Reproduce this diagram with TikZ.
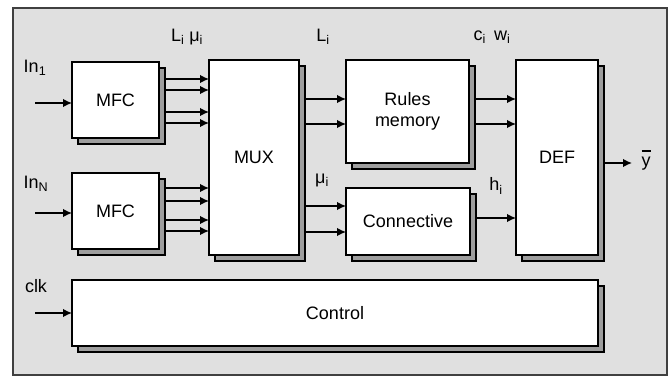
\documentclass[tikz,border=0pt]{standalone}
\usepackage{fontspec}
\setmainfont{Liberation Sans}
\usetikzlibrary{arrows.meta}
\usetikzlibrary{shadows}
\usetikzlibrary{calc}

\begin{document}
\begin{tikzpicture}[
    x = 1pt, y = -1pt,
    >={Latex[length=9pt, width=8.5pt]},
    blk/.style = {
      draw, line width = 2pt, fill = white,
      inner sep = 0pt, outer sep = 0pt,
      font = \fontsize{18}{21}\selectfont,
      align = center,
      copy shadow = {shadow xshift = 6pt, shadow yshift = -6pt,
        fill = black!38, draw = black, line width = 2pt},
    },
    sig/.style = {->, line width = 1.5pt},
    lbl/.style = {font = \fontsize{18}{21}\selectfont, inner sep = 0pt},
  ]

  \useasboundingbox (0,0) rectangle (671,377);
  \draw[fill = black!12, draw = black!75, line width = 1.5pt]
    (13,8) rectangle (667,375);

  \node[blk, minimum width = 87pt, minimum height = 76pt] (mfcA) at (115.5,100) {MFC};
  \node[blk, minimum width = 87pt, minimum height = 76pt] (mfcB) at (115.5,211) {MFC};
  \node[blk, minimum width = 90pt, minimum height = 195pt] (mux) at (254,157.5) {MUX};
  \node[blk, minimum width = 123pt, minimum height = 103pt] (rules) at (407.5,111.5) {Rules\\memory};
  \node[blk, minimum width = 124pt, minimum height = 67pt] (conn) at (408,221.5) {Connective};
  \node[blk, minimum width = 82pt, minimum height = 195pt] (def) at (557,157.5) {DEF};
  \node[blk, minimum width = 526pt, minimum height = 66pt] (ctrl) at (335,313) {Control};

  \node[lbl] (inAl) at (35,68) {In\textsubscript{1}};
  \node[lbl] (inBl) at (36,184) {In\textsubscript{N}};
  \node[lbl] (clkl) at (36,286) {clk};
  \node[lbl] (lml) at (187,37) {L\textsubscript{i} μ\textsubscript{i}};
  \node[lbl] (ll) at (323,37) {L\textsubscript{i}};
  \node[lbl] (ml) at (322,180) {μ\textsubscript{i}};
  \node[lbl] (cwl) at (492,37) {c\textsubscript{i}\, w\textsubscript{i}};
  \node[lbl] (hl) at (496,186) {h\textsubscript{i}};
  \node[lbl] (yl) at (646,160)
    {\ooalign{\hidewidth\rule[15pt]{9pt}{1.8pt}\hidewidth\cr y}};

  \coordinate (inA) at (35,103);
  \coordinate (inB) at (35,213);
  \coordinate (clk) at (35,313);
  \coordinate (yOut) at (632,163);

  \draw[sig] (inA) -- (inA -| mfcA.west);
  \draw[sig] (inB) -- (inB -| mfcB.west);
  \draw[sig] (clk) -- (ctrl.west);

  \foreach \yy in {79,90,112,123}
    \draw[sig] ($(mfcA.east |- 0,\yy)+(6,0)$) -- (mux.west |- 0,\yy);
  \foreach \yy in {188,201,220,231}
    \draw[sig] ($(mfcB.east |- 0,\yy)+(6,0)$) -- (mux.west |- 0,\yy);
  \foreach \yy in {99,124}
    \draw[sig] ($(mux.east |- 0,\yy)+(6,0)$) -- (rules.west |- 0,\yy);
  \foreach \yy in {206,232}
    \draw[sig] ($(mux.east |- 0,\yy)+(6,0)$) -- (conn.west |- 0,\yy);
  \foreach \yy in {99,124}
    \draw[sig] ($(rules.east |- 0,\yy)+(6,0)$) -- (def.west |- 0,\yy);
  \draw[sig] ($(conn.east |- 0,218)+(6,0)$) -- (def.west |- 0,218);
  \draw[sig] ($(def.east |- yOut)+(6,0)$) -- (yOut);
\end{tikzpicture}
\end{document}
